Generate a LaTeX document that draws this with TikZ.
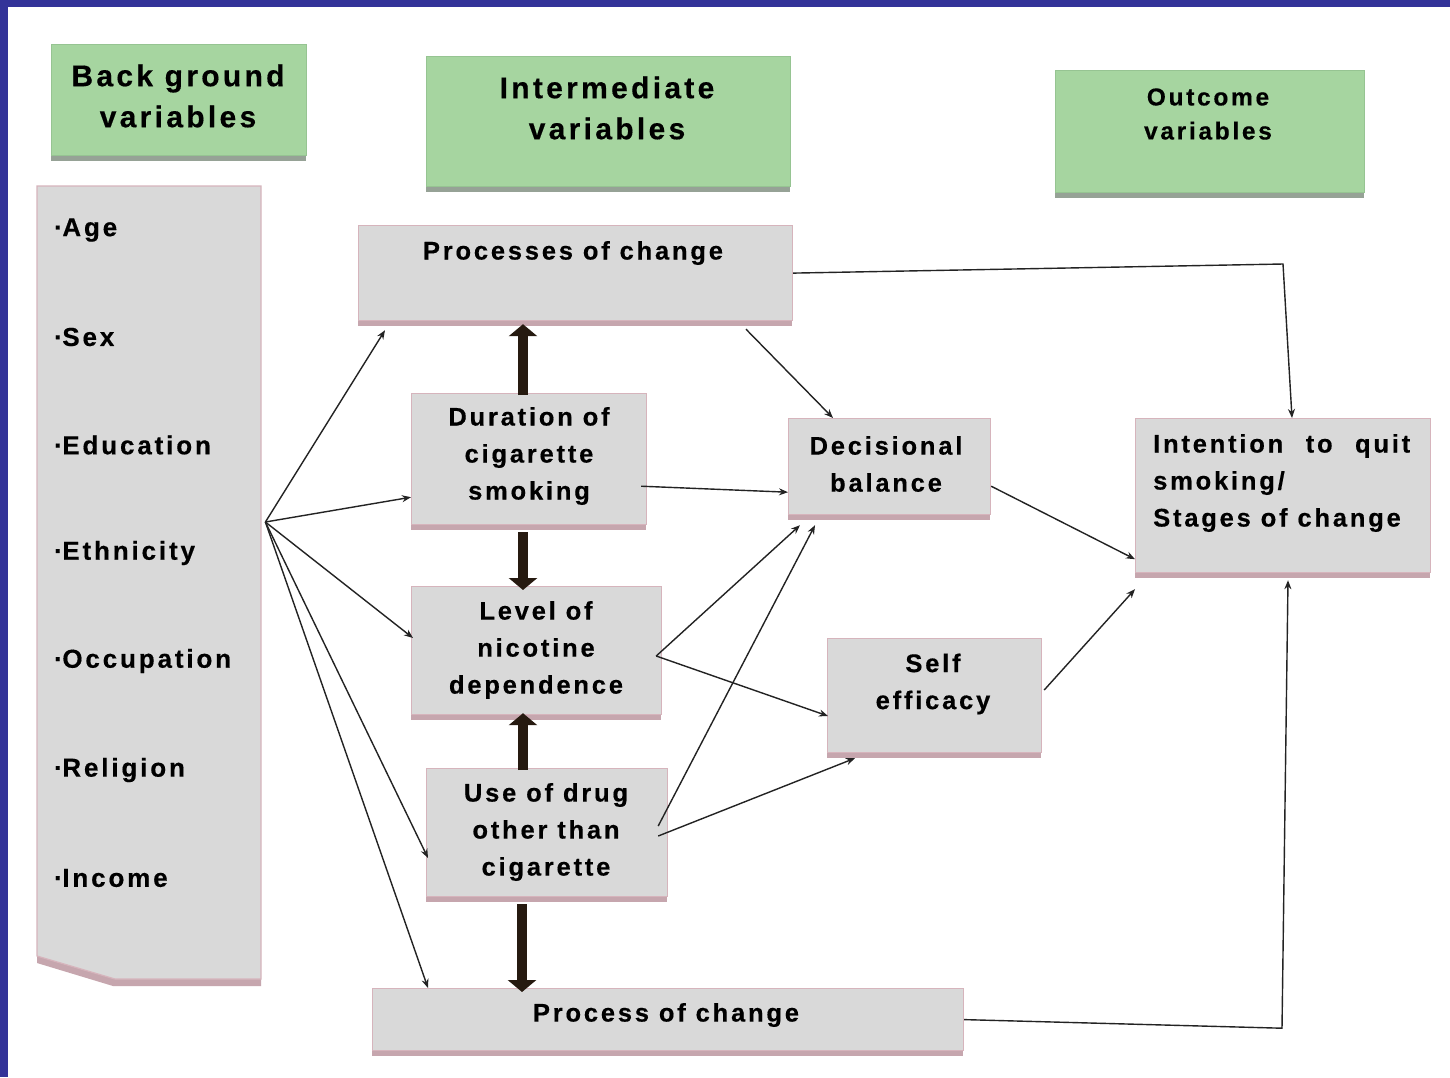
\documentclass[tikz,border=0pt]{standalone}
\usepackage{fontspec}
\setmainfont{Liberation Sans}[LetterSpace=11,BoldFeatures={FakeBold=0.4}]
\usetikzlibrary{arrows.meta,calc}
\definecolor{bordblue}{RGB}{51,51,153}
\definecolor{hdrfill}{RGB}{166,213,160}
\definecolor{hdredge}{RGB}{150,196,146}
\definecolor{hdrshadow}{RGB}{150,162,150}
\definecolor{boxfill}{RGB}{217,217,217}
\definecolor{boxedge}{RGB}{214,180,188}
\definecolor{boxshadow}{RGB}{198,166,174}
\definecolor{linec}{RGB}{35,35,35}
\definecolor{thickc}{RGB}{38,26,16}
\newcommand\mkbox[7]{%
  \fill[#2] (#4,#7-3) rectangle (#6,#7+6);
  \node[#1, anchor=north west, minimum width={(#6-#4)*1pt}, minimum height={(#7-#5)*1pt}] (#3) at (#4,#5) {};
}
\newcommand\bul{{·}\kern-0.5pt}
\tikzset{
  hdrbox/.style={fill=hdrfill, draw=hdredge, line width=0.8pt, inner sep=0pt},
  graybox/.style={fill=boxfill, draw=boxedge, line width=1.2pt, inner sep=0pt},
  hdrtext/.style={font=\fontsize{30}{41}\selectfont\bfseries, align=center, inner sep=0pt},
  outtext/.style={font=\fontsize{24.5}{34}\selectfont\bfseries, align=center, inner sep=0pt},
  lbl/.style={font=\fontsize{25.5}{37}\selectfont\bfseries, align=center, inner sep=0pt},
  itemtext/.style={font=\fontsize{26}{30}\selectfont\bfseries, anchor=west, inner sep=0pt},
  conn/.style={draw=linec, line width=1.4pt, -{Stealth[length=9pt,width=7pt]}},
  bigarrow/.style={draw=thickc, line width=10pt, -{Triangle[width=28pt,length=12pt]}}
}
\begin{document}
\begin{tikzpicture}[x=1pt,y=-1pt]
\useasboundingbox (0,0) rectangle (1450,1077);
\fill[white] (0,0) rectangle (1450,1077);
\fill[bordblue] (0,0) rectangle (1450,7);
\fill[bordblue] (0,0) rectangle (8,1077);

% header boxes
\mkbox{hdrbox}{hdrshadow}{bgH}{51}{44}{306}{155}
\mkbox{hdrbox}{hdrshadow}{interH}{426}{56}{790}{186}
\mkbox{hdrbox}{hdrshadow}{outH}{1055}{70}{1364}{192}
\node[hdrtext] (bgHt) at (178,96) {Back ground\\variables};
\node[hdrtext] (interHt) at (607,108) {Intermediate\\variables};
\node[outtext] (outHt) at (1208,114) {Outcome\\variables};

% background variables panel
\fill[boxshadow] (37,956) -- (115,979) -- (261,979) -- (261,986) -- (113,986) -- (37,963) -- cycle;
\filldraw[fill=boxfill, draw=boxedge, line width=1.2pt] (37,186) -- (261,186) -- (261,979) -- (115,979) -- (37,956) -- cycle;
\node[anchor=north west, minimum width=224pt, minimum height=793pt, inner sep=0pt] (bg) at (37,186) {};
\node[itemtext] (i1) at (54,230) {\bul Age};
\node[itemtext] (i2) at (54,337) {\bul Sex};
\node[itemtext] (i3) at (54,445) {\bul Education};
\node[itemtext] (i4) at (54,553) {\bul Ethnicity};
\node[itemtext] (i5) at (54,661) {\bul Occupation};
\node[itemtext] (i6) at (54,770) {\bul Religion};
\node[itemtext] (i7) at (54,878) {\bul Income};

% intermediate / outcome boxes
\mkbox{graybox}{boxshadow}{proc}{358}{225}{792}{320}
\mkbox{graybox}{boxshadow}{dur}{411}{393}{646}{524}
\mkbox{graybox}{boxshadow}{lev}{411}{586}{661}{714}
\mkbox{graybox}{boxshadow}{drug}{426}{768}{667}{896}
\mkbox{graybox}{boxshadow}{pchg}{372}{988}{963}{1050}
\mkbox{graybox}{boxshadow}{dec}{788}{418}{990}{514}
\mkbox{graybox}{boxshadow}{self}{827}{638}{1041}{752}
\mkbox{graybox}{boxshadow}{intent}{1135}{418}{1430}{572}

\node[lbl] (proct) at (573,253) {Processes of change};
\node[lbl] (durt) at (529,456) {Duration of\\cigarette\\smoking};
\node[lbl] (levt) at (536,650) {Level of\\nicotine\\dependence};
\node[lbl] (drugt) at (546,832) {Use of drug\\other than\\cigarette};
\node[lbl] (pchgt) at (666,1015) {Process of change};
\node[lbl] (dect) at (886,464) {Decisional\\balance};
\node[lbl] (selft) at (933,684) {Self\\efficacy};
\node[lbl, align=left, anchor=west] (intentt) at (1153,483) {\makebox[257pt][s]{Intention to quit}\\smoking/\\Stages of change};

% thick arrows
\draw[bigarrow] ($(dur.north west)+(112,2)$) -- ($(proc.south west)+(165,3)$);
\draw[bigarrow] ($(dur.south west)+(112,7)$) -- ($(lev.north west)+(112,4)$);
\draw[bigarrow] ($(drug.north west)+(97,2)$) -- ($(lev.south west)+(112,-2)$);
\draw[bigarrow] ($(drug.south west)+(96,7)$) -- ($(pchg.north west)+(150,4)$);

% thin connectors
\coordinate (hub) at ($(bg.north east)+(4,336)$);
\draw[conn] (hub) -- ($(proc.south west)+(27,9)$);
\draw[conn] (hub) -- ($(dur.south west)+(0,-28)$);
\draw[conn] (hub) -- ($(lev.north west)+(2,52)$);
\draw[conn] (hub) -- ($(drug.north west)+(2,90)$);
\draw[conn] (hub) -- ($(pchg.north west)+(56,0)$);

\draw[conn] ($(proc.south west)+(388,8)$) -- ($(dec.north west)+(45,0)$);
\draw[conn] (proc.east) -- ($(intent.north west)+(148,-154)$) -- ($(intent.north west)+(157,0)$);
\draw[conn] ($(dur.south east)+(-6,-39)$) -- ($(dec.south west)+(0,-23)$);
\draw[conn] ($(lev.north east)+(-6,70)$) -- ($(dec.south west)+(12,10)$);
\draw[conn] ($(lev.north east)+(-6,70)$) -- ($(self.north west)+(1,78)$);
\draw[conn] ($(drug.north east)+(-10,58)$) -- ($(dec.south west)+(27,10)$);
\draw[conn] ($(drug.north east)+(-10,68)$) -- ($(self.south west)+(28,5)$);
\draw[conn] ($(dec.south east)+(0,-29)$) -- ($(intent.south west)+(0,-14)$);
\draw[conn] ($(self.north east)+(2,52)$) -- ($(intent.south west)+(0,16)$);
\draw[conn] (pchg.east) -- ($(intent.south west)+(147,455)$) -- ($(intent.south west)+(153,7)$);
\end{tikzpicture}
\end{document}
